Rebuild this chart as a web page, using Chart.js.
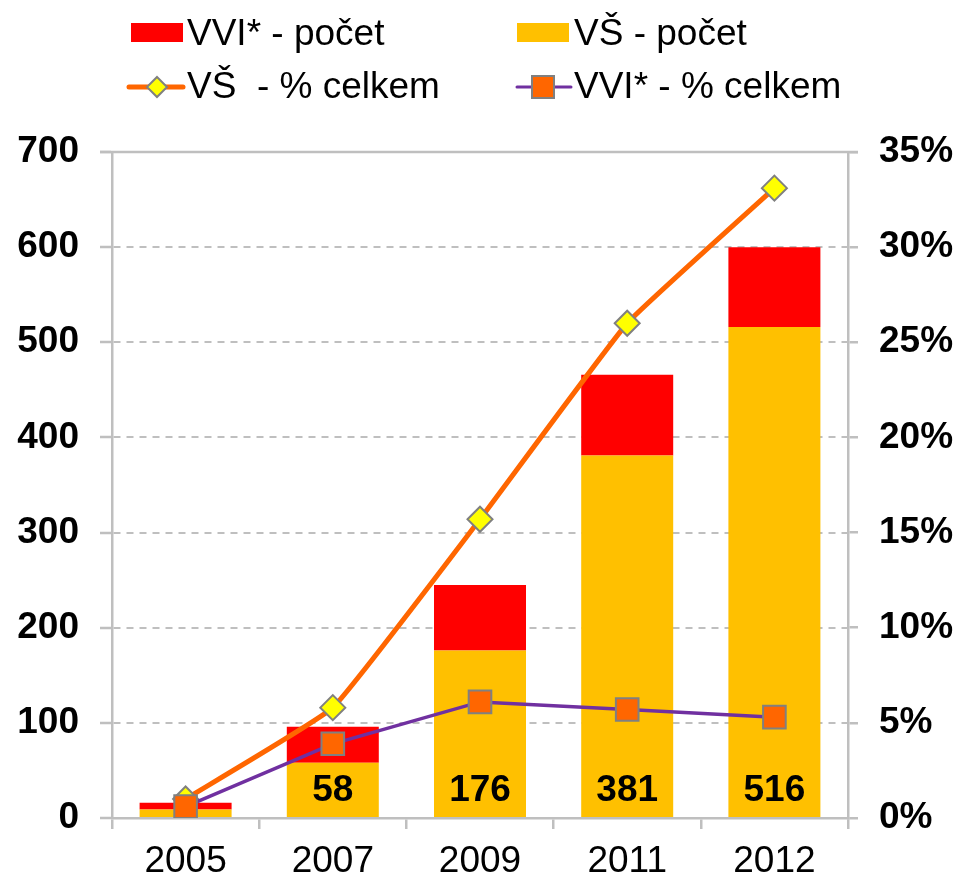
<!DOCTYPE html>
<html>
<head>
<meta charset="utf-8">
<script src="https://cdn.jsdelivr.net/npm/chart.js@4/dist/chart.umd.min.js"></script>
<style>
  html, body { margin: 0; padding: 0; background: #fff; }
  #wrap { position: relative; width: 960px; height: 878px; }
  #c { position: absolute; left: 0; top: 0; }
  .lg { position: absolute; font-family: "Liberation Sans", Arial, sans-serif; font-size: 37px; line-height: 37px; color: #000; white-space: pre; }
  #lgsvg { position: absolute; left: 0; top: 0; }
</style>
</head>
<body>
<div id="wrap">
  <canvas id="c" width="960" height="878"></canvas>
  <svg id="lgsvg" width="960" height="120">
    <rect x="131" y="23" width="52" height="19" fill="#ff0000"/>
    <rect x="517" y="23" width="52" height="19" fill="#ffc000"/>
    <line x1="129" y1="87" x2="183" y2="87" stroke="#ff6600" stroke-width="5" stroke-linecap="round"/>
    <polygon points="157,77 167,87 157,97 147,87" fill="#ffff00" stroke="#808080" stroke-width="2"/>
    <line x1="517" y1="87" x2="571" y2="87" stroke="#7030a0" stroke-width="3" stroke-linecap="round"/>
    <rect x="532" y="76" width="22" height="22" fill="#ff6600" stroke="#808080" stroke-width="2"/>
  </svg>
  <div class="lg" style="left:187px;top:14px">VVI* - počet</div>
  <div class="lg" style="left:574px;top:14px">VŠ - počet</div>
  <div class="lg" style="left:187px;top:67px">VŠ  - % celkem</div>
  <div class="lg" style="left:574px;top:67px">VVI* - % celkem</div>
</div>
<script>
const categories = ['2005', '2007', '2009', '2011', '2012'];
const vsPocet = [9, 58, 176, 381, 516];
const vviPocet = [7, 38, 69, 85, 84];
const vsPct = [1.0, 5.8, 15.7, 26.0, 33.1];
const vviPct = [0.6, 3.9, 6.1, 5.7, 5.3];
const vsLabelShown = [false, true, true, true, true];
const leftTicksMax = 700;
const rightTicksMax = 35;

const FONT = '"Liberation Sans", Arial, sans-serif';
const GRAY = '#bfbfbf';

const barLabels = {
  id: 'barLabels',
  afterDatasetsDraw(chart) {
    const ctx = chart.ctx;
    const meta = chart.getDatasetMeta(0);
    ctx.save();
    ctx.font = 'bold 37px ' + FONT;
    ctx.fillStyle = '#000';
    ctx.textAlign = 'center';
    ctx.textBaseline = 'alphabetic';
    meta.data.forEach((bar, i) => {
      if (!vsLabelShown[i]) return;
      ctx.fillText(String(vsPocet[i]), bar.x, bar.base - 16);
    });
    ctx.restore();
  }
};

const topBorder = {
  id: 'topBorder',
  afterDraw(chart) {
    const {ctx, chartArea} = chart;
    ctx.save();
    ctx.strokeStyle = GRAY;
    ctx.lineWidth = 2.5;
    ctx.beginPath();
    ctx.moveTo(chartArea.left - 12, chartArea.top);
    ctx.lineTo(chartArea.right + 10, chartArea.top);
    ctx.stroke();
    ctx.restore();
  }
};

new Chart(document.getElementById('c'), {
  type: 'bar',
  data: {
    labels: categories,
    datasets: [
      {
        type: 'bar', label: 'VŠ - počet', data: vsPocet, backgroundColor: '#ffc000',
        yAxisID: 'y', stack: 's', order: 3, barPercentage: 0.625, categoryPercentage: 1
      },
      {
        type: 'bar', label: 'VVI* - počet', data: vviPocet, backgroundColor: '#ff0000',
        yAxisID: 'y', stack: 's', order: 3, barPercentage: 0.625, categoryPercentage: 1
      },
      {
        type: 'line', label: 'VŠ  - % celkem', data: vsPct, yAxisID: 'y1', order: 2,
        borderColor: '#ff6600', borderWidth: 5, tension: 0.1, fill: false,
        pointStyle: 'rectRot', pointRadius: 12.5, pointBackgroundColor: '#ffff00',
        pointBorderColor: '#808080', pointBorderWidth: 2
      },
      {
        type: 'line', label: 'VVI* - % celkem', data: vviPct, yAxisID: 'y1', order: 1,
        borderColor: '#7030a0', borderWidth: 3.5, tension: 0, fill: false,
        pointStyle: 'rect', pointRadius: 16, pointBackgroundColor: '#ff6600',
        pointBorderColor: '#808080', pointBorderWidth: 2
      }
    ]
  },
  options: {
    responsive: false,
    animation: false,
    layout: { padding: { top: 152, left: 0, right: 0, bottom: 0 } },
    plugins: { legend: { display: false }, tooltip: { enabled: false } },
    scales: {
      x: {
        stacked: true,
        offset: true,
        grid: { display: true, drawOnChartArea: false, drawTicks: true, tickLength: 11, offset: true, color: GRAY, lineWidth: 2.5 },
        border: { display: true, color: GRAY, width: 2.5 },
        ticks: { font: { family: FONT, size: 37 }, color: '#000', padding: 11 },
        afterFit: s => { s.height = 60; }
      },
      y: {
        stacked: true,
        min: 0, max: leftTicksMax,
        ticks: { stepSize: 100, font: { family: FONT, size: 37, weight: 'bold' }, color: '#000', padding: 21 },
        grid: { color: GRAY, lineWidth: 2, tickLength: 12, tickColor: GRAY, tickWidth: 2.5 },
        border: { display: true, color: GRAY, width: 2.5, dash: [7, 6] },
        afterFit: s => { s.width = 112; }
      },
      y1: {
        position: 'right',
        stacked: false,
        min: 0, max: rightTicksMax,
        ticks: { stepSize: 5, callback: v => v + '%', font: { family: FONT, size: 37, weight: 'bold' }, color: '#000', padding: 21 },
        grid: { drawOnChartArea: false, tickLength: 10, color: GRAY, lineWidth: 2.5 },
        border: { display: true, color: GRAY, width: 2.5 },
        afterFit: s => { s.width = 112; }
      }
    }
  },
  plugins: [barLabels, topBorder]
});
</script>
</body>
</html>
